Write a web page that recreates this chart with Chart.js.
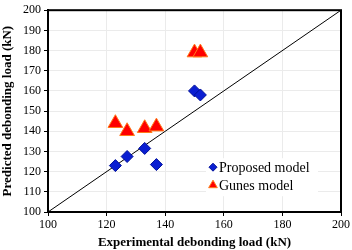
<!DOCTYPE html>
<html>
<head>
<meta charset="utf-8">
<script src="https://cdn.jsdelivr.net/npm/chart.js@4.4.1/dist/chart.umd.min.js"></script>
<style>
  html, body { margin: 0; padding: 0; background: #fff; }
  #wrap { width: 352px; height: 250px; }
</style>
</head>
<body>
<div id="wrap"><canvas id="c"></canvas></div>
<script>
// experimental vs predicted debonding load (kN)
const expProposed = [123, 127, 133, 137, 150, 152];
const predProposed = [123, 127.5, 131.5, 123.5, 160, 158];
const expGunes = [123, 127, 133, 137, 150, 152];
const predGunes = [144, 140, 141.5, 142.3, 179, 179];
const seriesNames = ['Proposed model', 'Gunes model'];
const axisMin = 100, axisMax = 200, axisStep = 20, yStep = 10;

const serif = "'Liberation Serif', 'Times New Roman', serif";

const toPoints = (xs, ys) => xs.map((x, i) => ({ x, y: ys[i] }));

// box around the plot + legend inside the plot area
const framePlugin = {
  id: 'frame',
  afterDraw(chart) {
    const { ctx, chartArea: a } = chart;
    ctx.save();
    ctx.strokeStyle = '#000';
    ctx.lineWidth = 2;
    ctx.strokeRect(a.left, a.top, a.right - a.left, a.bottom - a.top);

    const lx = a.left + 158, ly = a.top + 148;
    ctx.fillStyle = '#fff';
    ctx.fillRect(lx, ly, 112, 38);
    ctx.font = '14px ' + serif;
    ctx.textBaseline = 'middle';
    [0, 1].forEach((i) => {
      const ds = chart.data.datasets[i];
      const y = ly + 9 + i * 18;
      ctx.fillStyle = ds.backgroundColor;
      ctx.strokeStyle = ds.borderColor;
      ctx.lineWidth = 1;
      Chart.helpers.drawPoint(ctx, { pointStyle: ds.pointStyle, radius: i ? 5 : 4, borderWidth: 1 }, lx + 7, y);
      ctx.fillStyle = '#000';
      ctx.fillText(seriesNames[i], lx + 13, y + 1);
    });
    ctx.restore();
  },
};

new Chart(document.getElementById('c'), {
  type: 'scatter',
  data: {
    datasets: [
      {
        label: seriesNames[0],
        data: toPoints(expProposed, predProposed),
        pointStyle: 'rectRot',
        pointRadius: 6,
        backgroundColor: '#0a1ed2',
        borderColor: '#00109a',
        borderWidth: 1,
      },
      {
        label: seriesNames[1],
        data: toPoints(expGunes, predGunes),
        pointStyle: 'triangle',
        pointRadius: 8.5,
        backgroundColor: '#ff0000',
        borderColor: '#ff7a1a',
        borderWidth: 1,
      },
      {
        label: 'line of equality',
        type: 'line',
        data: [{ x: axisMin, y: axisMin }, { x: axisMax, y: axisMax }],
        borderColor: '#000',
        borderWidth: 1,
        pointRadius: 0,
        fill: false,
      },
    ],
  },
  options: {
    responsive: true,
    maintainAspectRatio: false,
    animation: false,
    layout: { padding: { top: 7, right: 10, left: 0, bottom: 0 } },
    plugins: { legend: { display: false }, tooltip: { enabled: false } },
    scales: {
      x: {
        type: 'linear',
        min: axisMin,
        max: axisMax,
        ticks: { stepSize: axisStep, color: '#000', font: { family: serif, size: 12 }, padding: 2 },
        grid: { color: '#ebebeb', tickColor: '#000', tickLength: 4 },
        border: { color: '#000', width: 2 },
        title: {
          display: true,
          text: 'Experimental debonding load (kN)',
          color: '#000',
          font: { family: serif, size: 13, weight: 'bold' },
          padding: { top: 0, bottom: 0 },
        },
        afterFit(scale) { scale.height = 38; },
      },
      y: {
        type: 'linear',
        min: axisMin,
        max: axisMax,
        ticks: { stepSize: yStep, color: '#000', font: { family: serif, size: 12 }, padding: 3 },
        grid: { color: '#ebebeb', tickColor: '#000', tickLength: 4 },
        border: { color: '#000', width: 2 },
        title: {
          display: true,
          text: 'Predicted debonding load (kN)',
          color: '#000',
          font: { family: serif, size: 13, weight: 'bold' },
          padding: { top: 0, bottom: 0 },
        },
        afterFit(scale) { scale.width = 48; },
      },
    },
  },
  plugins: [framePlugin],
});
</script>
</body>
</html>
